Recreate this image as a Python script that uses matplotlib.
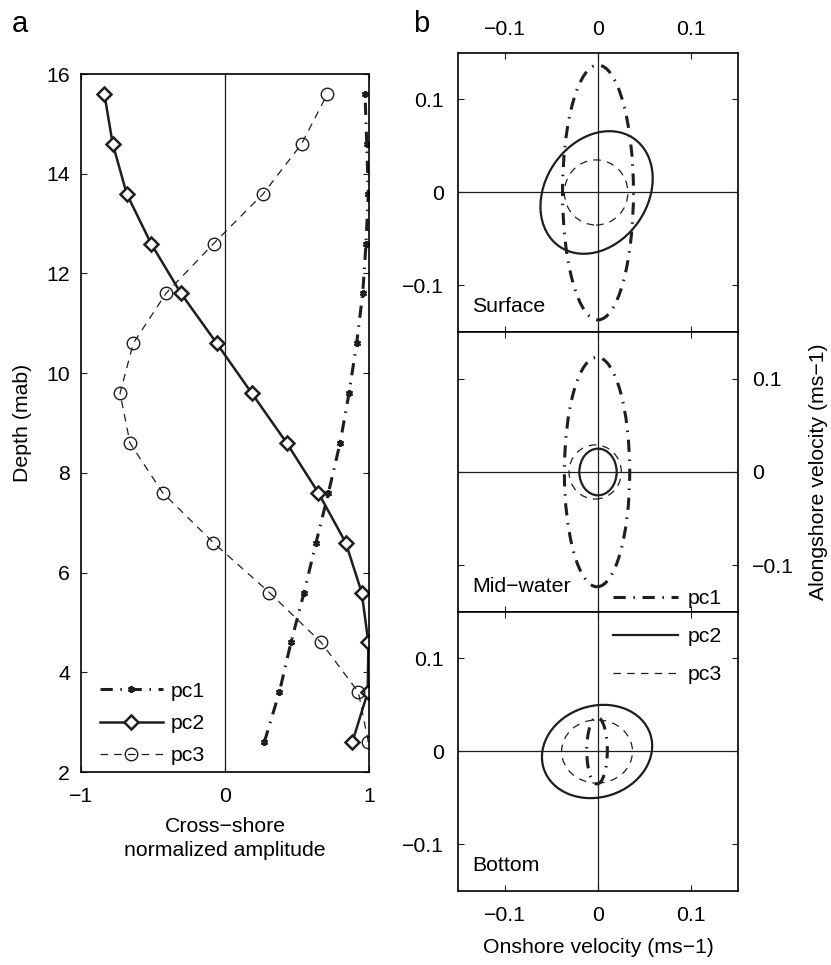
import numpy as np
import matplotlib.pyplot as plt
from matplotlib.patches import Ellipse
from matplotlib.lines import Line2D

plt.rcParams['font.family'] = ['Liberation Sans', 'DejaVu Sans']
plt.rcParams['font.size'] = 15.3
plt.rcParams['axes.linewidth'] = 1.2

INK = "#1e1e1e"

# ---- panel a: normalized cross-shore amplitude vs depth ----
depth = [2.6, 3.6, 4.6, 5.6, 6.6, 7.6, 8.6, 9.6, 10.6, 11.6, 12.6, 13.6, 14.6, 15.6]
pc1_amp = [0.273, 0.377, 0.458, 0.549, 0.632, 0.718, 0.799, 0.861, 0.914, 0.956, 0.979, 0.995, 0.984, 0.972]
pc2_amp = [0.884, 0.991, 0.995, 0.949, 0.838, 0.648, 0.428, 0.185, -0.058, -0.306, -0.514, -0.683, -0.78, -0.838]
pc3_amp = [0.995, 0.926, 0.667, 0.308, -0.081, -0.433, -0.66, -0.729, -0.637, -0.41, -0.079, 0.266, 0.532, 0.711]

# ---- panel b: principal-component ellipses (surface, mid-water, bottom) ----
levels = ["Surface", "Mid\u2212water", "Bottom"]
# centre x, centre y, semi-axis along angle, semi-axis across, angle (deg)
pc1_cx = [0.0, -0.001, -0.001]
pc1_cy = [0.0, 0.0, 0.001]
pc1_a = [0.038, 0.035, 0.011]
pc1_b = [0.137, 0.123, 0.036]
pc1_ang = [0, 0, 0]

pc2_cx = [-0.0015, 0.0, -0.001]
pc2_cy = [0.0, 0.0, 0.0]
pc2_a = [0.0704, 0.020, 0.060]
pc2_b = [0.0548, 0.025, 0.049]
pc2_ang = [56, 0, 18]

pc3_cx = [-0.002, -0.003, -0.001]
pc3_cy = [0.0, 0.0, 0.0]
pc3_a = [0.034, 0.028, 0.038]
pc3_b = [0.035, 0.029, 0.034]
pc3_ang = [0, 0, 0]

vel_ticks = [-0.1, 0, 0.1]
vel_labels = ["\u22120.1", "0", "0.1"]

dashdot = (0, (4, 2.5, 0.5, 2.5))
dashed = (0, (6, 5))

fig = plt.figure(figsize=(8.31, 9.65), dpi=100)

# panel a
ax = fig.add_axes([0.0975, 0.2, 0.3466, 0.7233])
ax.axvline(0, color=INK, lw=0.9)
ax.plot(pc1_amp, depth, color=INK, lw=2.2, ls=dashdot, marker=(6, 2, 0),
        ms=5, mew=1.6, label="pc1")
ax.plot(pc2_amp, depth, color=INK, lw=1.8, ls="-", marker="D", ms=7.5,
        mfc="white", mew=1.8, label="pc2")
ax.plot(pc3_amp, depth, color=INK, lw=0.9, ls=dashed, marker="o", ms=9,
        mfc="none", mew=1.0, label="pc3")
ax.set_xlim(-1, 1)
ax.set_ylim(2, 16)
ax.set_xticks([-1, 0, 1])
ax.set_xticklabels(["\u22121", "0", "1"])
ax.set_yticks([2, 4, 6, 8, 10, 12, 14, 16])
ax.tick_params(direction="in", length=4, width=0.8, top=True, right=True, color=INK)
ax.tick_params(axis="x", pad=11)
ax.tick_params(axis="y", pad=8)
ax.set_xlabel("Cross\u2212shore\nnormalized amplitude", labelpad=8, linespacing=1.3)
ax.set_ylabel("Depth (mab)", labelpad=10)
ax.legend(loc="upper left", bbox_to_anchor=(0.1203, 0.2935),
          bbox_transform=fig.transFigure, frameon=False, borderpad=0,
          borderaxespad=0, handlelength=2.95, handletextpad=0.38, labelspacing=0.62)

fig.text(12 / 831, 1 - 32 / 965, "a", fontsize=21, va="baseline")
fig.text(413 / 831, 1 - 32 / 965, "b", fontsize=21, va="baseline")

# panel b
rects = [[0.5511, 0.656, 0.337, 0.2891],
         [0.5511, 0.3658, 0.337, 0.2902],
         [0.5511, 0.0767, 0.337, 0.2891]]
params = [
    (pc1_cx, pc1_cy, pc1_a, pc1_b, pc1_ang, dict(lw=2.2, ls=dashdot)),
    (pc2_cx, pc2_cy, pc2_a, pc2_b, pc2_ang, dict(lw=1.6, ls="-")),
    (pc3_cx, pc3_cy, pc3_a, pc3_b, pc3_ang, dict(lw=0.9, ls=dashed)),
]
for i, rect in enumerate(rects):
    axb = fig.add_axes(rect)
    axb.axhline(0, color=INK, lw=0.9)
    axb.axvline(0, color=INK, lw=0.9)
    for cx, cy, a, b, ang, st in params:
        axb.add_patch(Ellipse((cx[i], cy[i]), 2 * a[i], 2 * b[i], angle=ang[i],
                              fill=False, edgecolor=INK, **st))
    axb.set_xlim(-0.15, 0.15)
    axb.set_ylim(-0.15, 0.15)
    axb.set_xticks(vel_ticks)
    axb.set_yticks(vel_ticks)
    axb.set_xticklabels(vel_labels)
    axb.set_yticklabels(vel_labels)
    axb.tick_params(direction="in", length=4, width=0.8, top=True, right=True,
                    color=INK, pad=10)
    axb.text(0.05, 0.09, levels[i], transform=axb.transAxes, va="center")
    if i == 0:
        axb.tick_params(labelbottom=False, labeltop=True)
    elif i == 1:
        axb.tick_params(labelbottom=False, labelleft=False, labelright=True)
        axb.yaxis.set_label_position("right")
        axb.set_ylabel("Alongshore velocity (ms\u22121)", labelpad=11)
    else:
        axb.tick_params(axis="x", pad=11)
        axb.set_xlabel("Onshore velocity (ms\u22121)", labelpad=9)

handles = [Line2D([], [], color=INK, lw=2.2, ls=dashdot),
           Line2D([], [], color=INK, lw=1.6, ls="-"),
           Line2D([], [], color=INK, lw=0.9, ls=dashed)]
fig.legend(handles, ["pc1", "pc2", "pc3"], loc="upper left",
           bbox_to_anchor=(0.7377, 0.3896), frameon=False, borderpad=0,
           borderaxespad=0, handlelength=3.06, handletextpad=0.47, labelspacing=0.9)

fig.savefig("out.png", dpi=100)
